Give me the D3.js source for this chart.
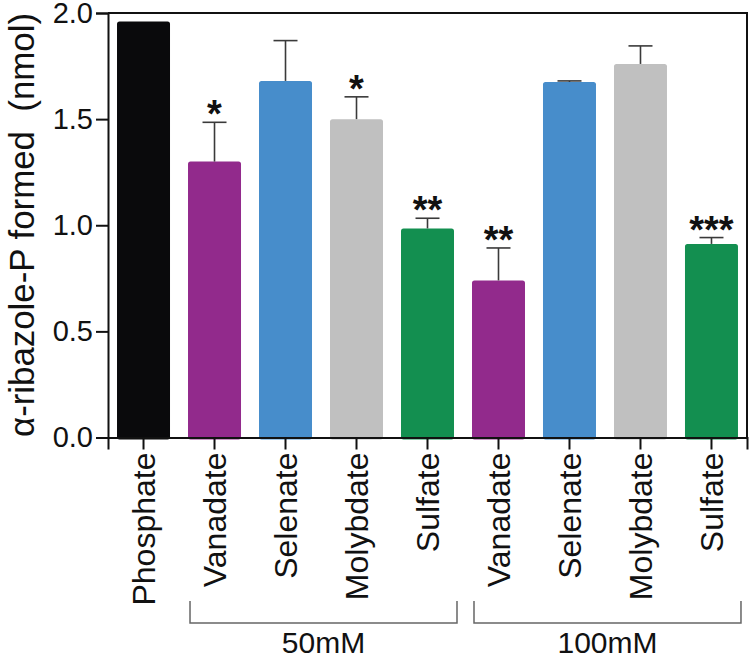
<!DOCTYPE html>
<html>
<head>
<meta charset="utf-8">
<script src="https://cdn.jsdelivr.net/npm/d3@7"></script>
<style>
  html, body { margin: 0; padding: 0; background: #fff; }
  svg { display: block; font-family: "Liberation Sans", Arial, Helvetica, sans-serif; }
</style>
</head>
<body>
<svg id="chart" width="750" height="659"></svg>
<script>
// ---- data ----
const categories = ["Phosphate", "Vanadate", "Selenate", "Molybdate", "Sulfate",
                    "Vanadate", "Selenate", "Molybdate", "Sulfate"];
const values     = [1.96, 1.30, 1.68, 1.50, 0.985, 0.74, 1.675, 1.76, 0.912];
const errors     = [0.0, 0.185, 0.19, 0.105, 0.048, 0.153, 0.005, 0.085, 0.03];
const stars      = ["", "*", "", "*", "**", "**", "", "", "***"];
const colors     = ["#0a0a0c", "#922a8c", "#478dcb", "#c0c0c0", "#138f50",
                    "#922a8c", "#478dcb", "#c0c0c0", "#138f50"];
const groupLabels = ["50mM", "100mM"];
const groupStart  = [1, 5];
const groupEnd    = [4, 8];
const yTicks      = [0, 0.5, 1.0, 1.5, 2.0];
const yTitle      = "\u03b1-ribazole-P formed\u00a0\u00a0(nmol)";

// ---- layout ----
const svg = d3.select("#chart");
const x = d3.scaleBand().domain(d3.range(categories.length))
  .range([108, 747]).paddingInner(0.2535).paddingOuter(0.127);
const y = d3.scaleLinear().domain([0, 2]).range([437.5, 13]);

// bars
svg.append("g").selectAll("rect").data(values).join("rect")
  .attr("x", (d, i) => x(i))
  .attr("width", x.bandwidth())
  .attr("y", d => y(d))
  .attr("height", d => y(0) - y(d) + 2)
  .attr("rx", 2.5)
  .attr("fill", (d, i) => colors[i]);

// error bars
const eb = svg.append("g").attr("stroke", "#3a3a3a").attr("stroke-width", 1.6).attr("fill", "none");
values.forEach((v, i) => {
  if (errors[i] <= 0) return;
  const cx = x(i) + x.bandwidth() / 2;
  eb.append("line").attr("x1", cx).attr("x2", cx).attr("y1", y(v)).attr("y2", y(v + errors[i]));
  eb.append("line").attr("x1", cx - 12).attr("x2", cx + 12).attr("y1", y(v + errors[i])).attr("y2", y(v + errors[i]));
});

// significance stars
svg.append("g").selectAll("text").data(stars).join("text")
  .attr("x", (d, i) => x(i) + x.bandwidth() / 2)
  .attr("y", (d, i) => y(values[i] + errors[i]) + 5)
  .attr("text-anchor", "middle")
  .attr("font-size", 38)
  .attr("font-weight", "bold")
  .attr("fill", "#111")
  .text(d => d);

// frame (top and right)
svg.append("path")
  .attr("d", `M${x.range()[0]},${y(2)}H${x.range()[1]}V${y(0)}`)
  .attr("fill", "none").attr("stroke", "#111").attr("stroke-width", 2);

// y axis
const ya = svg.append("g").attr("transform", "translate(108,0)")
  .call(d3.axisLeft(y).tickValues(yTicks).tickFormat(d3.format(".1f")).tickSize(12).tickPadding(3));
ya.select(".domain").attr("stroke", "#111").attr("stroke-width", 2);
ya.selectAll(".tick line").attr("stroke", "#111").attr("stroke-width", 2);
ya.selectAll(".tick text").attr("font-size", 29).attr("fill", "#111")
  .attr("font-family", "'Liberation Sans', Arial, sans-serif");

// x axis
const xa = svg.append("g").attr("transform", `translate(0,${y(0)})`)
  .call(d3.axisBottom(x).tickFormat(i => categories[i]).tickSize(12).tickPadding(3));
xa.select(".domain").attr("stroke", "#111").attr("stroke-width", 2);
xa.selectAll(".tick line").attr("stroke", "#111").attr("stroke-width", 2);
xa.selectAll(".tick text")
  .attr("font-size", 32).attr("fill", "#111")
  .attr("font-family", "'Liberation Sans', Arial, sans-serif")
  .attr("transform", "rotate(-90)")
  .attr("text-anchor", "end")
  .attr("x", -15).attr("y", 0).attr("dy", "0.36em");

// y title
svg.append("text")
  .attr("transform", "translate(34,225) rotate(-90)")
  .attr("text-anchor", "middle")
  .attr("font-size", 35)
  .attr("fill", "#111")
  .attr("textLength", 424)
  .attr("lengthAdjust", "spacingAndGlyphs")
  .text(yTitle);

// group brackets
const br = svg.append("g");
groupLabels.forEach((g, k) => {
  const x0 = x(groupStart[k]) + 2;
  const x1 = x(groupEnd[k]) + x.bandwidth() + 3;
  br.append("path")
    .attr("d", `M${x0},601V623H${x1}V601`)
    .attr("fill", "none").attr("stroke", "#666").attr("stroke-width", 1.5);
  br.append("text")
    .attr("x", (x0 + x1) / 2).attr("y", 653)
    .attr("text-anchor", "middle").attr("font-size", 30).attr("fill", "#111")
    .text(g);
});
</script>
</body>
</html>
